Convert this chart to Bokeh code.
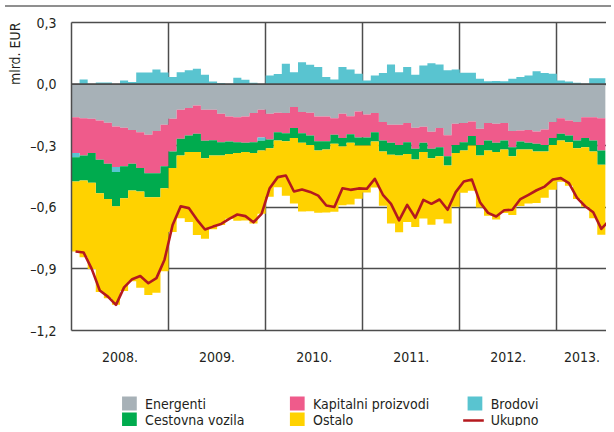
import numpy as np
from bokeh.plotting import figure
from bokeh.models import Range1d, FixedTicker, LinearAxis, Span, Title, Div
from bokeh.layouts import column
from bokeh.embed import file_html
from bokeh.resources import INLINE
from bokeh.core.properties import value

# ---------------- data (mlrd. EUR, monthly Jan 2008 - Jun 2013) ----------------
years = ["2008.", "2009.", "2010.", "2011.", "2012.", "2013."]

energenti = [
    -0.161, -0.166, -0.169, -0.177, -0.188, -0.206, -0.213, -0.223, -0.234, -0.247, -0.229, -0.198,
    -0.169, -0.125, -0.117, -0.104, -0.125, -0.125, -0.145, -0.158, -0.161, -0.158, -0.141, -0.125,
    -0.145, -0.140, -0.141, -0.112, -0.136, -0.140, -0.158, -0.158, -0.166, -0.145, -0.156, -0.133,
    -0.148, -0.141, -0.185, -0.198, -0.198, -0.190, -0.213, -0.208, -0.232, -0.214, -0.249, -0.193,
    -0.190, -0.182, -0.218, -0.190, -0.193, -0.190, -0.229, -0.226, -0.223, -0.231, -0.221, -0.185,
    -0.166, -0.177, -0.185, -0.161, -0.161, -0.166,
]
kapitalni = [
    -0.174, -0.182, -0.166, -0.192, -0.200, -0.198, -0.187, -0.165, -0.175, -0.187, -0.205, -0.202,
    -0.159, -0.141, -0.133, -0.138, -0.151, -0.148, -0.138, -0.121, -0.122, -0.128, -0.142, -0.135,
    -0.125, -0.094, -0.098, -0.102, -0.103, -0.110, -0.120, -0.120, -0.081, -0.118, -0.088, -0.127,
    -0.112, -0.093, -0.090, -0.088, -0.098, -0.093, -0.102, -0.078, -0.083, -0.093, -0.102, -0.103,
    -0.093, -0.071, -0.078, -0.085, -0.093, -0.085, -0.078, -0.053, -0.063, -0.060, -0.075, -0.078,
    -0.076, -0.073, -0.090, -0.102, -0.114, -0.157,
]
brodovi = [
    -0.021, 0.023, 0.000, 0.008, 0.008, -0.024, 0.018, 0.010, 0.057, 0.057, 0.071, 0.057,
    0.034, 0.058, 0.067, 0.075, 0.045, 0.013, 0.005, 0.000, 0.031, 0.021, 0.006, -0.016,
    0.042, 0.049, 0.099, 0.058, 0.107, 0.094, 0.083, 0.034, 0.023, 0.083, 0.071, 0.050,
    0.018, 0.042, 0.054, 0.096, 0.058, 0.083, 0.045, 0.091, 0.102, 0.096, 0.067, 0.071,
    0.055, 0.055, 0.026, 0.014, 0.015, 0.014, 0.026, 0.034, 0.042, 0.062, 0.054, 0.050,
    0.018, 0.013, 0.006, 0.002, 0.029, 0.029,
]
cestovna = [
    -0.118, -0.121, -0.146, -0.162, -0.171, -0.167, -0.156, -0.130, -0.114, -0.117, -0.117, -0.107,
    -0.081, -0.082, -0.081, -0.089, -0.085, -0.075, -0.065, -0.061, -0.052, -0.045, -0.052, -0.047,
    -0.042, -0.041, -0.039, -0.049, -0.047, -0.046, -0.045, -0.040, -0.044, -0.041, -0.042, -0.039,
    -0.039, -0.045, -0.053, -0.058, -0.052, -0.057, -0.052, -0.045, -0.046, -0.044, -0.045, -0.039,
    -0.040, -0.046, -0.052, -0.048, -0.045, -0.043, -0.044, -0.039, -0.032, -0.037, -0.032, -0.033,
    -0.033, -0.033, -0.037, -0.044, -0.053, -0.070,
]
ostalo = [
    -0.341, -0.374, -0.419, -0.482, -0.484, -0.480, -0.452, -0.442, -0.469, -0.476, -0.465, -0.405,
    -0.311, -0.305, -0.340, -0.404, -0.392, -0.359, -0.338, -0.316, -0.331, -0.333, -0.344, -0.309,
    -0.237, -0.227, -0.266, -0.318, -0.334, -0.323, -0.303, -0.307, -0.331, -0.286, -0.300, -0.259,
    -0.229, -0.224, -0.265, -0.335, -0.374, -0.331, -0.329, -0.324, -0.324, -0.307, -0.283, -0.262,
    -0.206, -0.221, -0.253, -0.318, -0.329, -0.310, -0.287, -0.276, -0.263, -0.251, -0.225, -0.219,
    -0.201, -0.212, -0.248, -0.290, -0.325, -0.341,
]
ukupno = [
    -0.815, -0.820, -0.900, -1.005, -1.035, -1.075, -0.990, -0.950, -0.935, -0.970, -0.945, -0.855,
    -0.686, -0.595, -0.604, -0.660, -0.708, -0.694, -0.681, -0.656, -0.635, -0.643, -0.673, -0.632,
    -0.507, -0.453, -0.445, -0.523, -0.513, -0.525, -0.543, -0.591, -0.599, -0.507, -0.515, -0.508,
    -0.510, -0.461, -0.539, -0.583, -0.664, -0.588, -0.651, -0.564, -0.583, -0.562, -0.612, -0.526,
    -0.474, -0.465, -0.575, -0.627, -0.645, -0.614, -0.612, -0.560, -0.539, -0.517, -0.499, -0.465,
    -0.458, -0.482, -0.554, -0.595, -0.624, -0.705, -0.664,
]

y_ticks = [-1.2, -0.9, -0.6, -0.3, 0.0, 0.3]
y_tick_labels = ["\u20131,2", "\u20130,9", "\u20130,6", "\u20130,3", "0,0", "0,3"]

legend_order = ["Energenti", "Kapitalni proizvodi", "Brodovi", "Cestovna vozila", "Ostalo", "Ukupno"]
colors = {
    "Energenti": "#a7b1b7",
    "Kapitalni proizvodi": "#ef5b8b",
    "Brodovi": "#59c4d0",
    "Cestovna vozila": "#00ab4e",
    "Ostalo": "#ffd200",
    "Ukupno": "#b5191e",
}

FONT = "'DejaVu Sans Condensed', 'Liberation Sans', sans-serif"
TXT = "#231f20"
GRID = "#4d4d4d"

# ---------------- stacking ----------------
n = len(energenti)
e = np.array(energenti)
k = np.array(kapitalni)
b = np.array(brodovi)
c = np.array(cestovna)
o = np.array(ostalo)
b_pos = np.maximum(b, 0)
b_neg = np.minimum(b, 0)
l1 = e
l2 = l1 + k
l3 = l2 + b_neg
l4 = l3 + c
l5 = l4 + o

x_end = -0.5 + 545 / 8.24

p = figure(width=606, height=360, x_range=Range1d(-0.5, x_end), y_range=Range1d(-1.2, 0.3),
           min_border_left=61, min_border_right=0, min_border_top=10, min_border_bottom=42,
           output_backend="svg", toolbar_location=None)
p.outline_line_color = None
p.background_fill_color = "white"
p.border_fill_color = "white"

# month bars drawn as seamless step areas (each month spans i-0.5 .. i+0.5)
edges = np.arange(n + 1) - 0.5


def ext(a):
    a = np.broadcast_to(np.asarray(a, dtype=float), (n,))
    return np.append(a, a[-1])


def band(bottom, top, col):
    p.varea_step(x=edges, y1=ext(bottom), y2=ext(top), step_mode="after", fill_color=col)


band(0, b_pos, colors["Brodovi"])
band(l1, 0, colors["Energenti"])
band(l2, l1, colors["Kapitalni proizvodi"])
band(l3, l2, colors["Brodovi"])
band(l4, l3, colors["Cestovna vozila"])
band(l5, l4, colors["Ostalo"])
p.line(x=np.arange(len(ukupno)), y=ukupno, line_color=colors["Ukupno"], line_width=2.6,
       line_join="round")

p.add_layout(Span(location=0, dimension="width", line_color=GRID, line_width=1.6, level="overlay"))

# grids
p.ygrid.ticker = FixedTicker(ticks=y_ticks)
p.ygrid.grid_line_color = GRID
p.ygrid.grid_line_width = 1.5
p.xgrid.ticker = FixedTicker(ticks=[12 * i - 0.5 for i in range(1, len(years))])
p.xgrid.grid_line_color = GRID
p.xgrid.grid_line_width = 1.5

# y axis
p.yaxis.ticker = FixedTicker(ticks=y_ticks)
p.yaxis.major_label_overrides = {t: s for t, s in zip(y_ticks, y_tick_labels)}
p.yaxis.major_tick_line_color = None
p.yaxis.minor_tick_line_color = None
p.yaxis.major_label_standoff = 9
p.yaxis.axis_line_color = GRID
p.yaxis.axis_line_width = 1.5
p.yaxis.major_label_text_font = FONT
p.yaxis.major_label_text_font_size = "14px"
p.yaxis.major_label_text_color = TXT

# x axis (year labels)
year_pos = [12 * i + 5.5 for i in range(len(years) - 1)] + [round((12 * (len(years) - 1) - 0.5 + x_end) / 2, 1)]
p.xaxis.ticker = FixedTicker(ticks=year_pos)
p.xaxis.major_label_overrides = {t: s for t, s in zip(year_pos, years)}
p.xaxis.major_tick_line_color = None
p.xaxis.minor_tick_line_color = None
p.xaxis.major_label_standoff = 15
p.xaxis.axis_line_color = GRID
p.xaxis.axis_line_width = 1.5
p.xaxis.major_label_text_font = FONT
p.xaxis.major_label_text_font_size = "14px"
p.xaxis.major_label_text_color = TXT

top_axis = LinearAxis(ticker=FixedTicker(ticks=[]), major_tick_line_color=None,
                      minor_tick_line_color=None, axis_line_color=GRID, axis_line_width=1.5)
p.add_layout(top_axis, "above")

p.add_layout(Title(text="mlrd. EUR", align="right", text_font=FONT, text_font_size="14px",
                   text_font_style="normal", text_color=TXT, standoff=9), "left")

# ---------------- legend (separate strip, same frame alignment) ----------------
lg = figure(width=606, height=54, x_range=Range1d(69, 614), y_range=Range1d(54, 0),
            min_border_left=61, min_border_right=0, min_border_top=0, min_border_bottom=0,
            x_axis_type=None, y_axis_type=None,
            output_backend="svg", toolbar_location=None)
lg.outline_line_color = None
lg.xgrid.visible = False
lg.ygrid.visible = False

col_x = [128, 299, 480]
row_y = [31, 47]
for idx, name in enumerate(legend_order):
    cx = col_x[idx % 3]
    cy = row_y[idx // 3]
    if name == "Ukupno":
        lg.line(x=[cx - 12, cx + 9], y=[cy + 1, cy + 1], line_color=colors[name], line_width=2.6)
    else:
        lg.rect(x=[cx], y=[cy], width=15, height=14, color=colors[name], line_width=0)
    lg.text(x=[cx + 16], y=[cy], text=[name], text_baseline="middle", text_align="left",
            text_font=value(FONT), text_font_size="14px", text_color=TXT)

topline = Div(text="", width=606, height=2, styles={"background-color": "#8f8f8f"})

layout = column(topline, p, lg, spacing=0)

open("out.html", "w").write(file_html(layout, INLINE))
